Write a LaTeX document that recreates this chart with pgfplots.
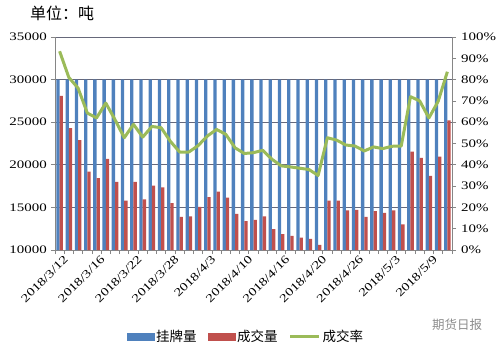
\documentclass[border=0pt]{standalone}
\usepackage{pgfplots}
\pgfplotsset{compat=1.18}
\usepackage{pgfplotstable}
\usepackage{fontspec}
\setmainfont{Liberation Serif}
\newfontfamily\numfont[FakeStretch=1.3]{Liberation Serif}
\newfontfamily\cjk{Noto Sans CJK SC}
\definecolor{cblue}{HTML}{4F81BD}
\definecolor{cred}{HTML}{C0504D}
\definecolor{cgreen}{HTML}{9BBB59}
\definecolor{cgrid}{HTML}{66687A}
\definecolor{caxis}{HTML}{868686}

\pgfplotstableread{
x vol deal rate
0 30000 28100 93.3
1 30000 24300 81.0
2 30000 22900 76.0
3 30000 19200 64.3
4 30000 18450 62.0
5 30000 20700 69.0
6 30000 18000 61.2
7 30000 15800 52.7
8 30000 18000 59.0
9 30000 15950 53.0
10 30000 17550 58.0
11 30000 17350 57.4
12 30000 15500 51.0
13 30000 13900 46.0
14 30000 13950 46.0
15 30000 15050 49.0
16 30000 16200 53.5
17 30000 16850 56.6
18 30000 16150 54.3
19 30000 14250 48.0
20 30000 13400 45.3
21 30000 13550 45.7
22 30000 13950 46.8
23 30000 12450 42.6
24 30000 11850 39.5
25 30000 11650 39.0
26 30000 11450 38.4
27 30000 11300 37.8
28 30000 10600 35.0
29 30000 15800 52.7
30 30000 15800 51.6
31 30000 14650 49.3
32 30000 14700 48.8
33 30000 13900 46.5
34 30000 14550 48.4
35 30000 14350 47.6
36 30000 14650 48.7
37 30000 13000 48.8
38 30000 21550 72.0
39 30000 20800 70.0
40 30000 18700 62.0
41 30000 20950 69.8
42 30000 25200 83.7
}\data

\begin{document}
\begin{tikzpicture}
\useasboundingbox (-55pt,-101pt) rectangle (445pt,250pt);
\begin{axis}[
  at={(0pt,0pt)}, anchor=south west, scale only axis,
  width=397pt, height=213pt,
  xmin=-0.5, xmax=42.5, ymin=10000, ymax=35000,
  ybar=0pt, bar width=3.3pt,
  axis y line*=left, axis x line*=bottom,
  axis line style={caxis, line width=0.8pt},
  ytick={10000,15000,...,35000},
  scaled y ticks=false,
  ymajorgrids, grid style={cgrid, line width=0.9pt},
  xtick={-0.5,0.5,...,42.5}, xticklabel=\empty,
  extra x ticks={0,4,...,40},
  extra x tick labels={2018/3/12,2018/3/16,2018/3/22,2018/3/28,2018/4/3,2018/4/10,2018/4/16,2018/4/20,2018/4/26,2018/5/3,2018/5/9},
  extra x tick style={tick style={draw=none}, grid=none,
    tick label style={rotate=45, anchor=north east, inner sep=1pt, yshift=-2pt, xshift=3pt, font=\numfont\fontsize{11.5}{13}\selectfont}},
  tick align=outside, major tick length=4pt,
  tick style={caxis, line width=0.8pt},
  /pgf/number format/assume math mode=true,
  /pgf/number format/1000 sep={},
  yticklabel style={font=\numfont\fontsize{11.5}{13}\selectfont, inner sep=2pt, xshift=-2pt},
  clip=true,
]
\addplot[fill=cblue, draw=none] table[x=x,y=vol]{\data};
\addplot[fill=cred, draw=none] table[x=x,y=deal]{\data};
\end{axis}
\begin{axis}[
  at={(0pt,0pt)}, anchor=south west, scale only axis,
  width=397pt, height=213pt,
  xmin=-0.5, xmax=42.5, ymin=0, ymax=100,
  axis y line*=right, axis x line=none,
  axis line style={caxis, line width=0.8pt},
  ytick={0,10,...,100},
  yticklabel={\pgfmathprintnumber{\tick}\%},
  tick align=outside, major tick length=4pt,
  tick style={caxis, line width=0.8pt},
  /pgf/number format/assume math mode=true,
  yticklabel style={font=\numfont\fontsize{11.5}{13}\selectfont, inner sep=2pt, xshift=3pt},
  legend style={at={(0.481,-0.408)}, anchor=center, draw=none, fill=none,
    legend columns=3, font=\cjk\fontsize{13.5}{15}\selectfont,
    /tikz/every even column/.append style={column sep=9pt}},
  legend cell align=left,
]
\addlegendimage{legend image code/.code={\fill[cblue] (0pt,-3.5pt) rectangle (27pt,3.5pt);}}
\addlegendentry{挂牌量}
\addlegendimage{legend image code/.code={\fill[cred] (0pt,-3.5pt) rectangle (27pt,3.5pt);}}
\addlegendentry{成交量}
\addplot[cgreen, line width=3pt, no markers, line join=round,
  legend image code/.code={\draw[cgreen,line width=3pt] (0pt,0pt) -- (29pt,0pt);}]
  table[x=x,y=rate]{\data};
\addlegendentry{成交率}
\end{axis}
\node[font=\cjk\fontsize{16}{18}\selectfont, anchor=west, inner sep=0pt] at (-25pt,237pt) {单位：吨};
\node[font=\cjk\fontsize{12.5}{14}\selectfont, text=black!45, anchor=west, inner sep=0pt] at (377pt,-75pt) {期货日报};
\end{tikzpicture}
\end{document}
